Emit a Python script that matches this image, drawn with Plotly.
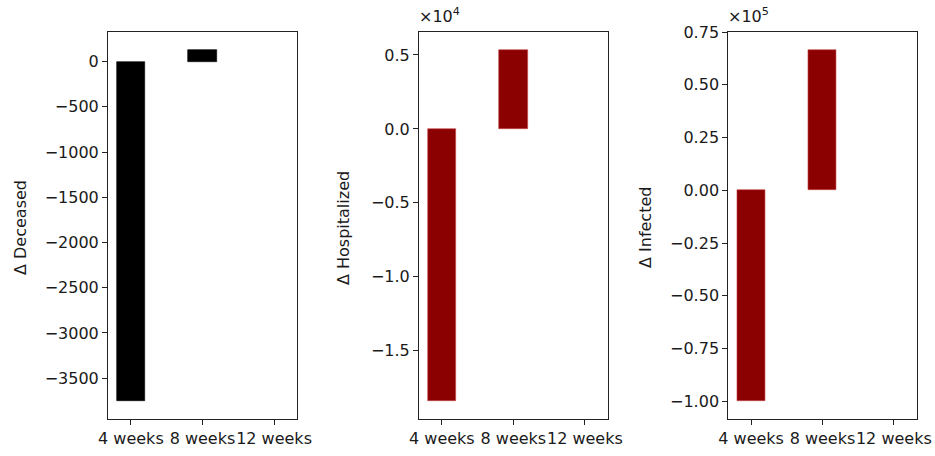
import plotly.graph_objects as go

# Change in outcomes relative to baseline, by intervention duration
durations = ["4 weeks", "8 weeks", "12 weeks"]
delta_deceased = [-3757, 133, 0]
delta_hospitalized = [-18430, 5365, 0]
delta_infected = [-100000, 66700, 0]

# Y tick values and their labels (offset-scaled for the last two panels)
deceased_ticks = [0, -500, -1000, -1500, -2000, -2500, -3000, -3500]
deceased_ticktext = ["0", "\u2212500", "\u22121000", "\u22121500", "\u22122000",
                     "\u22122500", "\u22123000", "\u22123500"]
hosp_ticks = [5000, 0, -5000, -10000, -15000]
hosp_ticktext = ["0.5", "0.0", "\u22120.5", "\u22121.0", "\u22121.5"]
inf_ticks = [75000, 50000, 25000, 0, -25000, -50000, -75000, -100000]
inf_ticktext = ["0.75", "0.50", "0.25", "0.00", "\u22120.25", "\u22120.50",
                "\u22120.75", "\u22121.00"]

panels = [
    dict(values=delta_deceased, color="black", edge="black",
         label="\u0394 Deceased",
         ticks=deceased_ticks, ticktext=deceased_ticktext, offset=None,
         domain=[0.1155, 0.3176], label_x=20),
    dict(values=delta_hospitalized, color="#8b0000", edge="#c94a4a",
         label="\u0394 Hospitalized",
         ticks=hosp_ticks, ticktext=hosp_ticktext, offset="\u00d710<sup>4</sup>",
         domain=[0.4481, 0.6500], label_x=343),
    dict(values=delta_infected, color="#8b0000", edge="#c94a4a",
         label="\u0394 Infected",
         ticks=inf_ticks, ticktext=inf_ticktext, offset="\u00d710<sup>5</sup>",
         domain=[0.7789, 0.9804], label_x=645),
]

W, H = 935, 456
FONT = "DejaVu Sans"
FS = 16

fig = go.Figure()
annotations = []
ydom = [(H - 419) / H, (H - 32) / H]

for i, p in enumerate(panels):
    n = "" if i == 0 else str(i + 1)
    # zero-height bars get no outline so they stay invisible
    edge_w = [0.6 if v != 0 else 0 for v in p["values"]]
    fig.add_trace(go.Bar(
        x=durations, y=p["values"], width=0.4,
        marker=dict(color=p["color"], line=dict(width=edge_w, color=p["edge"])),
        xaxis="x" + n, yaxis="y" + n, showlegend=False,
    ))
    vmin = min(p["values"])
    vmax = max(p["values"])
    pad = 0.05 * (vmax - vmin)
    common = dict(showline=True, mirror=True, linecolor="#222222", linewidth=1,
                  ticks="outside", ticklen=5, tickcolor="#222222", tickwidth=1,
                  showgrid=False, zeroline=False, automargin=False,
                  tickfont=dict(family=FONT, size=FS, color="#1a1a1a"))
    fig.update_layout(**{
        "xaxis" + n: dict(domain=p["domain"], anchor="y" + n, type="category",
                          range=[-0.32, 2.32], tickangle=0, **common),
        "yaxis" + n: dict(domain=ydom, anchor="x" + n,
                          range=[vmin - pad, vmax + pad],
                          tickvals=p["ticks"], ticktext=p["ticktext"], **common),
    })
    annotations.append(dict(
        x=p["label_x"] / W, y=(H - 228) / H, xref="paper", yref="paper",
        text=p["label"], textangle=-90, showarrow=False,
        xanchor="center", yanchor="middle",
        font=dict(family=FONT, size=FS, color="#1a1a1a")))
    if p["offset"]:
        annotations.append(dict(
            x=p["domain"][0] - 0.002, y=(H - 15) / H, xref="paper", yref="paper",
            text=p["offset"], showarrow=False, xanchor="left", yanchor="middle",
            font=dict(family=FONT, size=FS, color="#1a1a1a")))

fig.update_layout(
    width=W, height=H,
    margin=dict(l=0, r=0, t=0, b=0),
    paper_bgcolor="white", plot_bgcolor="white",
    annotations=annotations,
    bargap=0,
)

fig.write_html("out.html")
